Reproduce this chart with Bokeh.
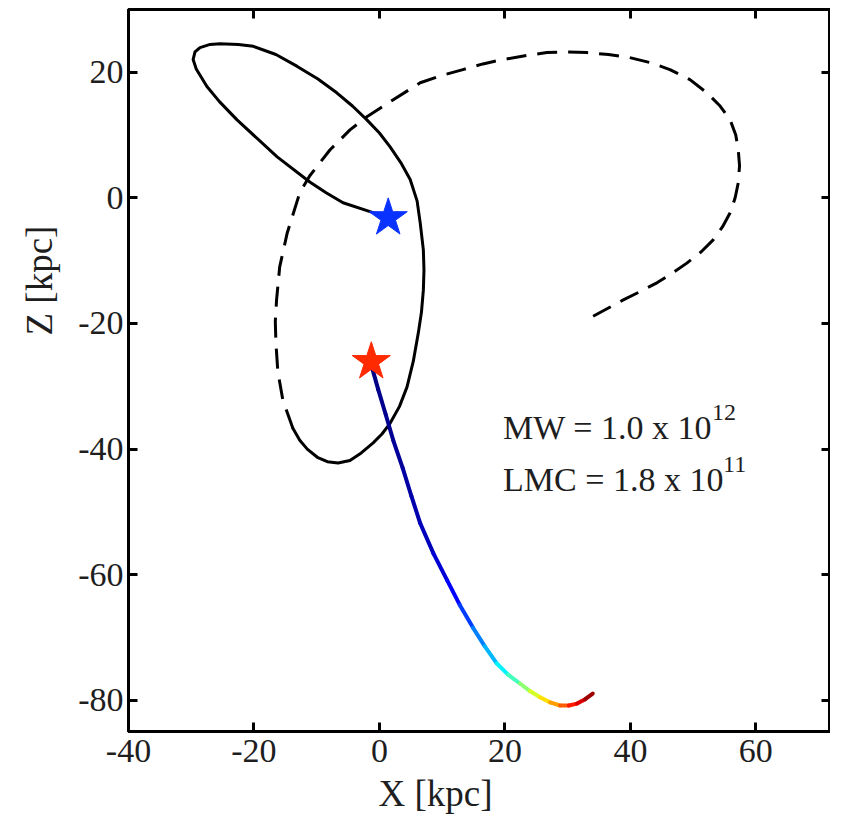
import numpy as np
from bokeh.plotting import figure
from bokeh.models import LinearAxis, FixedTicker, Title, Range1d
from bokeh.core.properties import value
from bokeh.embed import file_html
from bokeh.resources import INLINE

# ---------------- data ----------------
# LMC orbit, recent part (solid)
solid_x = [1.4, -1.5, -5.8, -8.5, -11.1, -16.3, -22.7, -25.5, -27.5, -29.2, -29.7, -29.4,
           -28.6, -27.0, -25.4, -22.5, -20.1, -16.5, -13.1, -9.8, -6.8, -4.3, -2.0, 0.0, 1.7, 3.4, 4.9,
           6.0, 6.5, 7.0, 7.1, 7.0, 6.7, 6.2, 5.4, 4.4, 3.2, 1.7, 0.4, -1.0, -2.9, -4.7, -6.6, -8.3,
           -9.9, -11.5, -12.7, -13.8]
solid_z = [-3.2, -2.2, -0.8, 0.8, 2.5, 6.5, 12.4, 15.3, 17.7, 20.5, 22.0, 23.2,
           23.9, 24.4, 24.5, 24.4, 24.1, 22.8, 20.9, 18.9, 16.7, 14.6, 12.4, 10.3, 8.1, 5.6, 2.9,
           -0.5, -4.0, -8.3, -11.5, -14.7, -18.2, -21.5, -26.0, -30.1, -33.2, -35.9, -37.6, -39.0, -40.6, -41.8, -42.2, -42.0,
           -41.3, -40.0, -38.6, -36.7]

# LMC orbit, earlier part (dashed)
dashed_x = [-13.8, -15.4, -16.2, -16.5, -16.6, -16.4, -15.9, -14.7, -12.7, -11.1, -7.9, -4.7, -2.0, 2.2,
            6.5, 9.7, 13.3, 16.5, 19.7, 23.2, 26.7, 29.9, 33.1, 36.5, 39.9, 43.2, 46.3, 49.5, 52.2, 54.3, 55.9,
            56.8, 57.2, 57.4, 57.2, 56.7, 55.9, 54.7, 53.2, 51.3, 49.0, 46.7, 44.3, 41.6, 38.8, 36.2, 33.6]
dashed_z = [-36.7, -32.2, -27.6, -23.1, -19.7, -16.3, -11.0, -5.6, 0.8, 3.5, 7.6, 10.8, 12.9, 15.6,
            18.3, 19.4, 20.4, 21.3, 22.0, 22.6, 23.1, 23.2, 23.1, 22.8, 22.3, 21.5, 20.4, 18.8, 16.7, 14.6, 12.4,
            10.0, 7.6, 5.1, 2.4, 0.0, -2.4, -4.6, -6.7, -8.6, -10.4, -12.0, -13.5, -14.9, -16.3, -17.7, -19.1]

# coloured track (colour value 0..1 along the track)
track_x = [-1.3, -0.2, 1.0, 2.2, 3.7, 5.1, 6.5, 8.6, 10.8, 12.8, 14.9, 16.8, 18.7,
           20.5, 22.4, 24.0, 25.6, 27.2, 28.8, 30.2, 31.5, 32.8, 34.0]
track_z = [-26.6, -30.5, -34.5, -38.6, -43.0, -47.5, -51.8, -56.6, -60.9, -64.8, -68.4, -71.4, -74.1,
           -75.9, -77.3, -78.5, -79.5, -80.3, -80.8, -80.8, -80.5, -79.8, -78.9]
track_c = [0.00, 0.01, 0.015, 0.02, 0.03, 0.04, 0.05, 0.07, 0.10, 0.15, 0.22, 0.28, 0.33,
           0.40, 0.48, 0.55, 0.62, 0.69, 0.75, 0.82, 0.88, 0.94, 1.00]

# stars
blue_star_x = [1.4]
blue_star_z = [-3.2]
red_star_x = [-1.3]
red_star_z = [-26.1]

x_ticks = [-40, -20, 0, 20, 40, 60]
x_tick_labels = ["-40", "-20", "0", "20", "40", "60"]
z_ticks = [-80, -60, -40, -20, 0, 20]
z_tick_labels = ["-80", "-60", "-40", "-20", "0", "20"]

mass_labels = ["MW = 1.0 x 10", "LMC = 1.8 x 10"]
mass_exps = ["12", "11"]

# ---------------- figure ----------------
SERIF = value("Liberation Serif")
INK = "#1e1e1e"

p = figure(width=830, height=820, output_backend="svg", toolbar_location=None,
           x_range=Range1d(-40, 71.9), y_range=Range1d(-84.94, 29.96),
           min_border_left=128, min_border_right=0, min_border_top=9, min_border_bottom=89,
           background_fill_color="white", border_fill_color="white")
p.grid.visible = False
p.outline_line_color = "black"
p.outline_line_width = 3


def style_axis(ax, ticks, labels):
    ax.ticker = FixedTicker(ticks=ticks)
    ax.axis_line_width = 3
    ax.axis_line_color = "black"
    ax.major_tick_in = 9
    ax.major_tick_out = 0
    ax.major_tick_line_width = 3
    ax.minor_tick_line_color = None
    ax.major_label_text_font = "Liberation Serif"
    ax.major_label_text_color = INK
    ax.major_label_text_font_size = "34px"
    ax.major_label_overrides = dict(zip(ticks, labels))


xb = p.xaxis[0]
yl = p.yaxis[0]
style_axis(xb, x_ticks, x_tick_labels)
style_axis(yl, z_ticks, z_tick_labels)
xb.major_label_standoff = 8
yl.major_label_standoff = 5

xt = LinearAxis()
style_axis(xt, x_ticks, [""] * len(x_ticks))
xt.major_label_text_font_size = "1px"
xt.major_label_standoff = 0
p.add_layout(xt, "above")
yr = LinearAxis()
style_axis(yr, z_ticks, [""] * len(z_ticks))
yr.major_label_text_font_size = "1px"
yr.major_label_standoff = 0
p.add_layout(yr, "right")

# axis titles
tx = Title(text="X [kpc]", align="left", offset=250, standoff=12,
           text_font="Liberation Serif", text_font_size="37px",
           text_font_style="normal", text_color=INK)
p.add_layout(tx, "below")
ty = Title(text="Z [kpc]", align="left", offset=396, standoff=32,
           text_font="Liberation Serif", text_font_size="37px", text_line_height=0.9,
           text_font_style="normal", text_color=INK)
p.add_layout(ty, "left")

# orbits
p.line(solid_x, solid_z, line_color="black", line_width=3, line_join="round", line_cap="round")
p.line(dashed_x, dashed_z, line_color="black", line_width=3, line_dash="20 11", line_join="round")


def jet(t):
    r = min(max(1.5 - abs(4 * t - 3), 0), 1)
    g = min(max(1.5 - abs(4 * t - 2), 0), 1)
    b = min(max(1.5 - abs(4 * t - 1), 0), 1)
    return "#%02x%02x%02x" % (int(r * 255), int(g * 255), int(b * 255))


seg_xs, seg_ys, seg_cols = [], [], []
for i in range(len(track_x) - 1):
    seg_xs.append([track_x[i], track_x[i + 1]])
    seg_ys.append([track_z[i], track_z[i + 1]])
    seg_cols.append(jet(0.5 * (track_c[i] + track_c[i + 1])))
p.multi_line(xs=seg_xs, ys=seg_ys, line_color=seg_cols, line_width=4, line_cap="round")

# stars
p.scatter(blue_star_x, blue_star_z, marker="star", size=40, fill_color="#0a32ff",
          line_color="#0a32ff", line_width=1)
p.scatter(red_star_x, red_star_z, marker="star", size=40, fill_color="#ff2a00",
          line_color="#ff2a00", line_width=1)

# mass annotations (exponents placed right after the mantissa text)
label_x = [19.7, 19.7]
label_z = [-36.5, -44.9]
p.text(x=label_x, y=label_z, text=mass_labels, text_font=SERIF,
       text_font_size="34px", text_color=INK, text_baseline="alphabetic")
p.text(x=label_x, y=label_z, text=mass_exps, text_font=SERIF,
       x_offset=[209, 220], y_offset=-15,
       text_font_size="24px", text_color=INK, text_baseline="alphabetic")

open("out.html", "w").write(file_html(p, INLINE))
